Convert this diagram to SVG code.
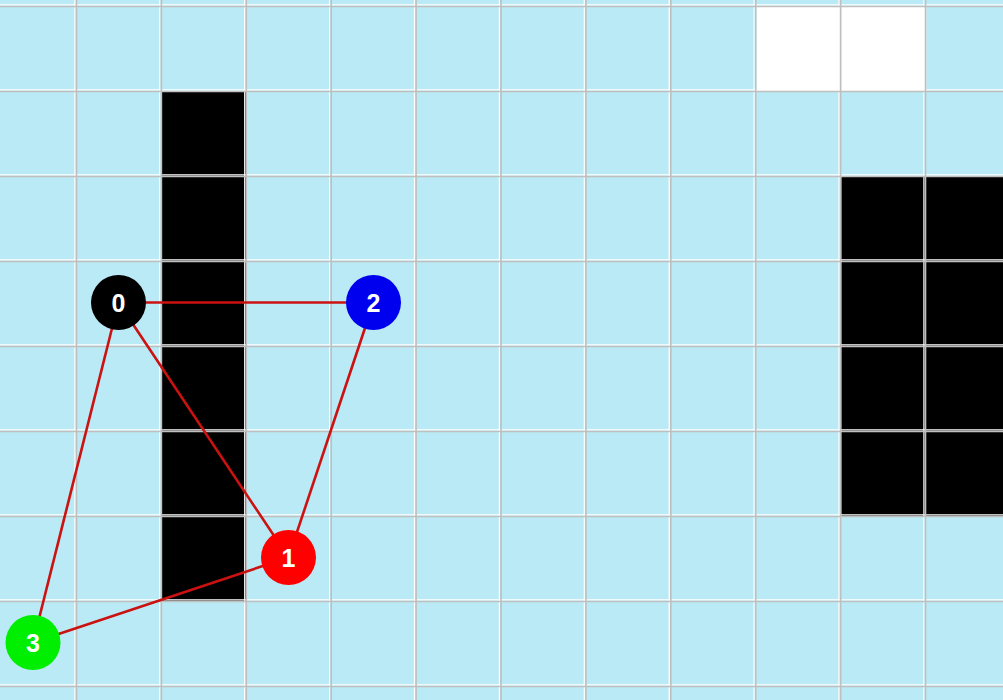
<svg xmlns="http://www.w3.org/2000/svg" width="1003" height="700" viewBox="0 0 1003 700">
<style>
.gl{stroke:#bfbfbf;stroke-width:1.6}
.wl{stroke:#ffffff;stroke-width:1.2}
.edge{stroke:#cc1111;stroke-width:2.6;fill:none}
.lbl{font-family:"Liberation Sans",Arial,sans-serif;font-weight:bold;font-size:25px;fill:#ffffff;text-anchor:middle;dominant-baseline:central}
</style>
<rect x="0" y="0" width="1003" height="700" fill="#b9eaf5"/>
<g id="cells">
<rect x="756.5" y="6.5" width="84.9" height="85" fill="#ffffff"/>
<rect x="841.4" y="6.5" width="84.9" height="85" fill="#ffffff"/>
<rect x="161.4" y="91.5" width="84.9" height="510" fill="#000000"/>
<rect x="841.4" y="176.5" width="170" height="340" fill="#000000"/>
</g>
<g id="grid">
<path class="wl" d="M74.9 0V700M159.8 0V700M244.7 0V700M329.6 0V700M414.5 0V700M499.4 0V700M584.3 0V700M669.2 0V700M754.1 0V700M839 0V700M923.9 0V700M0 4.9H1003M0 89.9H1003M0 174.9H1003M0 259.9H1003M0 344.9H1003M0 429.9H1003M0 514.9H1003M0 599.9H1003M0 684.9H1003"/>
<path class="gl" d="M76.5 0V700M161.4 0V700M246.3 0V700M331.2 0V700M416.1 0V700M501 0V700M585.9 0V700M670.8 0V700M755.7 0V700M840.6 0V700M925.5 0V700M0 6.5H1003M0 91.5H1003M0 176.5H1003M0 261.5H1003M0 346.5H1003M0 431.5H1003M0 516.5H1003M0 601.5H1003M0 686.5H1003"/>
</g>
<g id="connectors">
<line class="edge" x1="118.5" y1="302.5" x2="373.5" y2="302.5"/>
<line class="edge" x1="118.5" y1="302.5" x2="288.5" y2="557.5"/>
<line class="edge" x1="118.5" y1="302.5" x2="33" y2="642.5"/>
<line class="edge" x1="373.5" y1="302.5" x2="288.5" y2="557.5"/>
<line class="edge" x1="288.5" y1="557.5" x2="33" y2="642.5"/>
</g>
<g id="node0">
<circle cx="118.5" cy="302.5" r="27.5" fill="#000000"/>
<text class="lbl" x="118.5" y="302.5">0</text>
</g>
<g id="node1">
<circle cx="288.5" cy="557.5" r="27.5" fill="#ff0000"/>
<text class="lbl" x="288.5" y="557.5">1</text>
</g>
<g id="node2">
<circle cx="373.5" cy="302.5" r="27.5" fill="#0000ee"/>
<text class="lbl" x="373.5" y="302.5">2</text>
</g>
<g id="node3">
<circle cx="33" cy="642.5" r="27.5" fill="#00ee00"/>
<text class="lbl" x="33" y="642.5">3</text>
</g>
</svg>
